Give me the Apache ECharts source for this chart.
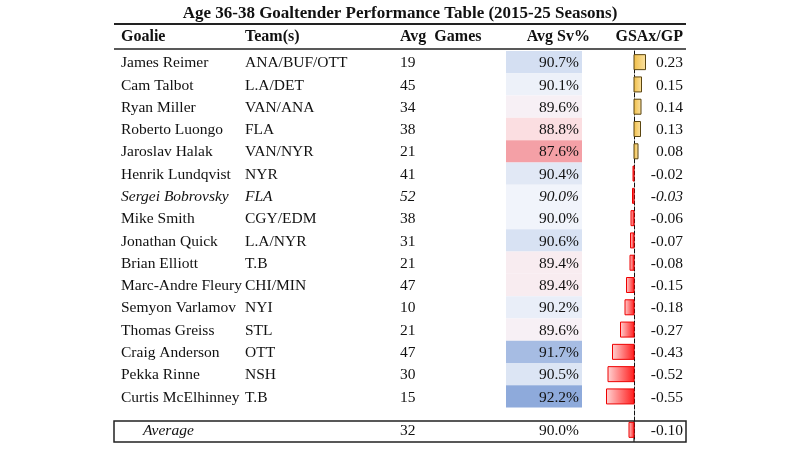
<!DOCTYPE html>
<html>
<head>
<meta charset="utf-8">
<script src="https://cdn.jsdelivr.net/npm/echarts@6/dist/echarts.min.js"></script>
<style>
html,body{margin:0;padding:0;background:#fff;}
#main{width:800px;height:449px;}
</style>
</head>
<body>
<div id="main"></div>
<script>
// table data
var goalies = ['James Reimer','Cam Talbot','Ryan Miller','Roberto Luongo','Jaroslav Halak','Henrik Lundqvist',
	'Sergei Bobrovsky','Mike Smith','Jonathan Quick','Brian Elliott','Marc-Andre Fleury','Semyon Varlamov',
	'Thomas Greiss','Craig Anderson','Pekka Rinne','Curtis McElhinney'];
var teams = ['ANA/BUF/OTT','L.A/DET','VAN/ANA','FLA','VAN/NYR','NYR','FLA','CGY/EDM','L.A/NYR','T.B',
	'CHI/MIN','NYI','STL','OTT','NSH','T.B'];
var games = [19,45,34,38,21,41,52,38,31,21,47,10,21,47,30,15];
var svPct = [90.7,90.1,89.6,88.8,87.6,90.4,90.0,90.0,90.6,89.4,89.4,90.2,89.6,91.7,90.5,92.2];
var gsax = [0.23,0.15,0.14,0.13,0.08,-0.02,-0.03,-0.06,-0.07,-0.08,-0.15,-0.18,-0.27,-0.43,-0.52,-0.55];
var italicRows = ['Sergei Bobrovsky'];
var avgLabel = 'Average';
var avgGames = 32, avgSv = 90.0, avgGsax = -0.10;
var headers = ['Goalie','Team(s)','Avg  Games','Avg Sv%','GSAx/GP'];

var FONT = '"Liberation Serif", serif';
var FS = 15.5;
var AVG_POS = 16.5;
// column x positions
var colName = 121, colTeam = 245, colGames = 400, cellL = 506, cellR = 582, colSv = 579, colGsax = 683;

var chart = echarts.init(document.getElementById('main'));

var cellData = [], textData = [], barData = [];
for (var i = 0; i < goalies.length; i++) {
	cellData.push([i, svPct[i]]);
	textData.push([i, i]);
	barData.push([gsax[i], i]);
}
textData.push([AVG_POS, -1]);
barData.push([avgGsax, AVG_POS]);

function txt(x, y, s, align, italic, bold) {
	return {type:'text', x:x, y:y + 1, style:{text:s, fill:'#111', fontFamily:FONT, fontSize: bold ? 16 : FS,
		fontStyle: italic ? 'italic' : 'normal', fontWeight: bold ? 'bold' : 'normal',
		align:align, verticalAlign:'middle'}};
}

var option = {
	backgroundColor:'#fff',
	animation:false,
	title:{text:'Age 36-38 Goaltender Performance Table (2015-25 Seasons)', left:'center', top:0,
		textStyle:{fontFamily:FONT, fontSize:17, fontWeight:'bold', color:'#111'}},
	grid:[
		{left:0, right:0, top:51, height:390},
		{left:606, width:43, top:51, height:390}
	],
	xAxis:[
		{gridIndex:0, type:'value', min:0, max:800, show:false},
		{gridIndex:1, type:'value', min:-0.56, max:0.30, show:false}
	],
	yAxis:[
		{gridIndex:0, type:'value', min:-0.5, max:17, inverse:true, show:false},
		{gridIndex:1, type:'value', min:-0.5, max:17, inverse:true,
			axisLine:{show:true, onZero:true, lineStyle:{color:'#111', type:'dashed', width:1}},
			axisTick:{show:false}, axisLabel:{show:false}, splitLine:{show:false}}
	],
	visualMap:{show:false, type:'continuous', min:87.6, max:92.2, dimension:1, seriesIndex:0,
		inRange:{color:['#f4a0a6','#fbdde0','#f5f7fc','#c6d4ed','#8eaadb']}},
	graphic:[
		{type:'line', shape:{x1:114, y1:24, x2:686, y2:24}, style:{stroke:'#222', lineWidth:2}},
		{type:'line', shape:{x1:114, y1:49, x2:686, y2:49}, style:{stroke:'#222', lineWidth:1.5}},
		{type:'rect', shape:{x:114, y:421, width:572, height:21}, style:{fill:null, stroke:'#222', lineWidth:1.5}},
		{type:'line', shape:{x1:634, y1:421, x2:634, y2:442}, style:{stroke:'#222', lineWidth:1.2}},
		txt(colName, 36, headers[0], 'left', false, true),
		txt(colTeam, 36, headers[1], 'left', false, true),
		txt(colGames, 36, headers[2], 'left', false, true),
		txt(590, 36, headers[3], 'right', false, true),
		txt(colGsax, 36, headers[4], 'right', false, true)
	],
	series:[
		{
			type:'custom', xAxisIndex:0, yAxisIndex:0, data:cellData, z:1,
			renderItem:function(params, api){
				var row = api.value(0);
				var y0 = api.coord([0, row - 0.5])[1];
				var y1 = api.coord([0, row + 0.5])[1];
				return {type:'rect', shape:{x:cellL, y:y0, width:cellR - cellL, height:y1 - y0},
					style:{fill:api.visual('color')}};
			}
		},
		{
			type:'custom', xAxisIndex:0, yAxisIndex:0, data:textData, z:3,
			renderItem:function(params, api){
				var row = api.value(0), idx = api.value(1);
				var y = api.coord([0, row])[1];
				if (idx < 0) {
					return {type:'group', children:[
						txt(143, y, avgLabel, 'left', true),
						txt(colGames, y, String(avgGames), 'left'),
						txt(colSv, y, avgSv.toFixed(1) + '%', 'right'),
						txt(colGsax, y, avgGsax.toFixed(2), 'right')
					]};
				}
				var it = italicRows.indexOf(goalies[idx]) >= 0;
				return {type:'group', children:[
					txt(colName, y, goalies[idx], 'left', it),
					txt(colTeam, y, teams[idx], 'left', it),
					txt(colGames, y, String(games[idx]), 'left', it),
					txt(colSv, y, svPct[idx].toFixed(1) + '%', 'right', it),
					txt(colGsax, y, gsax[idx].toFixed(2), 'right', it)
				]};
			}
		},
		{
			type:'custom', xAxisIndex:1, yAxisIndex:1, data:barData, z:2,
			renderItem:function(params, api){
				var v = api.value(0), row = api.value(1);
				var p0 = api.coord([0, row]);
				var p1 = api.coord([v, row]);
				var x = Math.min(p0[0], p1[0]), w = Math.abs(p1[0] - p0[0]);
				var fill = v >= 0
					? new echarts.graphic.LinearGradient(0,0,1,0,[{offset:0,color:'#f0bd45'},{offset:1,color:'#fbe3a4'}])
					: new echarts.graphic.LinearGradient(0,0,1,0,[{offset:0,color:'#ffd4d4'},{offset:1,color:'#ff1c1c'}]);
				return {type:'rect', shape:{x:x, y:p0[1] - 7.5, width:w, height:15},
					style:{fill:fill, stroke: v >= 0 ? '#5a4510' : '#ee0000', lineWidth:1}};
			}
		}
	]
};
chart.setOption(option);
</script>
</body>
</html>
